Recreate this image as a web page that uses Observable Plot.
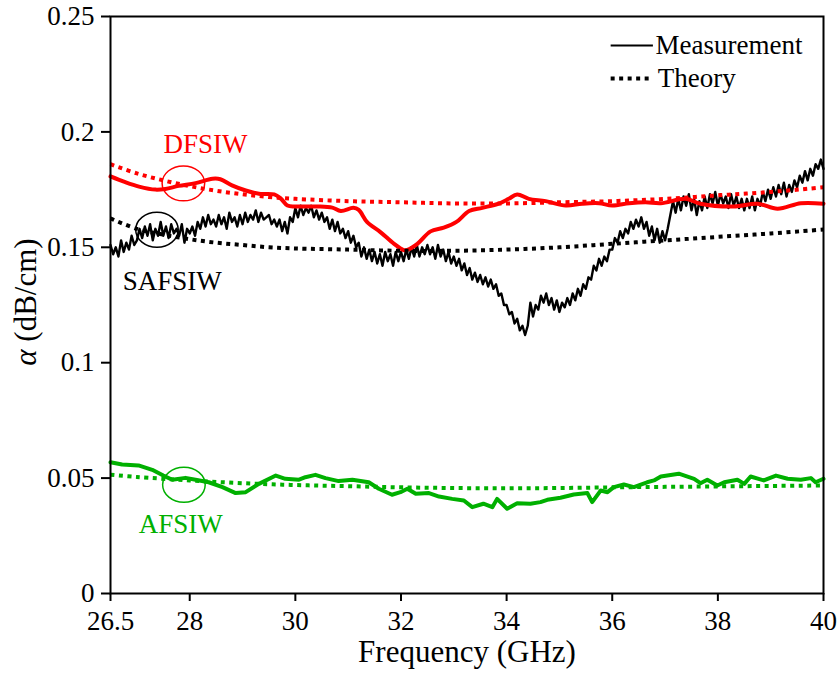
<!DOCTYPE html>
<html><head><meta charset="utf-8">
<script src="https://cdn.jsdelivr.net/npm/d3@7"></script>
<script src="https://cdn.jsdelivr.net/npm/@observablehq/plot@0.6"></script>
<style>body{margin:0;background:#fff}</style>
</head><body><div id="chart"></div>
<script>
// Axis ticks
const xTicks = [26.5, 28, 30, 32, 34, 36, 38, 40];
const yTicks = [0, 0.05, 0.1, 0.15, 0.2, 0.25];

// SAFSIW measurement (black, noisy), sampled every 0.05 GHz from 26.5 GHz
const safsiwStart = 26.5, safsiwStep = 0.05;
const safsiwMeasured = [
  0.151,0.147,0.150,0.146,0.153,0.148,0.152,0.149,0.155,0.151,
  0.153,0.158,0.154,0.159,0.155,0.160,0.153,0.158,0.155,0.161,
  0.155,0.159,0.154,0.160,0.156,0.158,0.155,0.160,0.152,0.158,
  0.156,0.159,0.155,0.161,0.158,0.163,0.159,0.164,0.160,0.162,
  0.159,0.164,0.160,0.163,0.158,0.165,0.161,0.163,0.159,0.164,
  0.160,0.165,0.161,0.164,0.162,0.166,0.161,0.165,0.162,0.163,
  0.164,0.160,0.162,0.159,0.162,0.157,0.161,0.156,0.163,0.161,
  0.167,0.163,0.168,0.164,0.167,0.165,0.168,0.163,0.166,0.162,
  0.165,0.161,0.163,0.158,0.162,0.157,0.161,0.156,0.158,0.154,
  0.157,0.152,0.155,0.150,0.152,0.146,0.150,0.145,0.149,0.144,
  0.148,0.143,0.147,0.142,0.148,0.144,0.147,0.142,0.148,0.144,
  0.148,0.144,0.149,0.145,0.150,0.146,0.151,0.146,0.150,0.147,
  0.151,0.147,0.150,0.145,0.151,0.146,0.149,0.144,0.148,0.143,
  0.146,0.142,0.145,0.140,0.143,0.138,0.141,0.136,0.139,0.135,
  0.138,0.134,0.137,0.133,0.136,0.132,0.134,0.129,0.130,0.125,
  0.125,0.121,0.122,0.117,0.119,0.114,0.116,0.112,0.116,0.126,
  0.120,0.125,0.123,0.129,0.126,0.130,0.125,0.128,0.123,0.127,
  0.122,0.126,0.124,0.128,0.125,0.130,0.127,0.132,0.129,0.134,
  0.132,0.137,0.136,0.142,0.140,0.145,0.142,0.146,0.144,0.149,
  0.149,0.154,0.152,0.157,0.154,0.158,0.156,0.161,0.158,0.162,
  0.159,0.163,0.158,0.161,0.155,0.159,0.153,0.158,0.152,0.157,
  0.153,0.158,0.164,0.170,0.165,0.171,0.166,0.172,0.168,0.173,
  0.166,0.171,0.164,0.170,0.166,0.172,0.167,0.173,0.169,0.174,
  0.168,0.173,0.169,0.172,0.167,0.173,0.168,0.172,0.167,0.171,
  0.166,0.171,0.167,0.172,0.166,0.171,0.168,0.174,0.170,0.175,
  0.171,0.176,0.172,0.177,0.173,0.178,0.172,0.177,0.174,0.179,
  0.176,0.181,0.178,0.183,0.179,0.184,0.181,0.186,0.184,0.188,
  0.184
];

// DFSIW measurement (red): [GHz, dB/cm]
const dfsiwMeasured = [
  [26.5,0.1807],[26.78,0.1782],[27.04,0.1763],[27.35,0.1750],[27.54,0.1753],[27.79,0.1766],
  [28.11,0.1778],[28.43,0.1797],[28.58,0.1795],[28.8,0.1768],[29.06,0.1746],[29.31,0.1732],
  [29.6,0.1729],[29.72,0.1712],[29.85,0.1681],[30.0,0.1677],[30.41,0.1677],[30.7,0.1672],
  [30.86,0.1657],[31.1,0.1671],[31.2,0.1662],[31.36,0.1609],[31.61,0.1566],[31.87,0.1515],
  [32.05,0.1488],[32.12,0.1489],[32.31,0.1515],[32.56,0.1569],[32.81,0.1585],[33.05,0.1610],
  [33.29,0.1657],[33.54,0.1671],[33.85,0.1689],[34.04,0.1710],[34.2,0.1729],[34.42,0.1710],
  [34.74,0.1700],[35.12,0.1681],[35.43,0.1689],[35.75,0.1691],[36.0,0.1681],[36.32,0.1691],
  [36.63,0.1695],[36.92,0.1691],[37.39,0.1710],[37.67,0.1689],[38.3,0.1677],[38.75,0.1689],
  [39.13,0.1667],[39.57,0.1691],[40.0,0.1689]
];

// AFSIW measurement (green): [GHz, dB/cm]
const afsiwMeasured = [
  [26.5,0.0569],[26.72,0.0559],[27.03,0.0555],[27.29,0.0536],[27.5,0.0511],[27.67,0.0493],
  [27.92,0.0501],[28.11,0.0493],[28.36,0.0482],[28.62,0.0461],[28.87,0.0435],[29.06,0.0439],
  [29.31,0.0475],[29.63,0.0511],[29.81,0.0497],[30.07,0.0493],[30.19,0.0504],[30.38,0.0514],
  [30.57,0.0500],[30.82,0.0487],[31.08,0.0493],[31.39,0.0482],[31.58,0.0454],[31.83,0.0428],
  [31.99,0.0439],[32.12,0.0454],[32.28,0.0432],[32.53,0.0435],[32.72,0.0420],[32.97,0.0410],
  [33.19,0.0403],[33.35,0.0374],[33.56,0.0389],[33.73,0.0374],[33.82,0.0410],[34.01,0.0367],
  [34.2,0.0391],[34.45,0.0389],[34.64,0.0396],[34.77,0.0406],[35.02,0.0415],[35.27,0.0429],
  [35.53,0.0435],[35.62,0.0396],[35.78,0.0446],[35.91,0.0439],[36.03,0.0461],[36.22,0.0472],
  [36.41,0.0461],[36.66,0.0482],[36.79,0.0490],[36.92,0.0507],[37.26,0.0519],[37.55,0.0497],
  [37.67,0.0478],[37.8,0.0493],[37.99,0.0468],[38.12,0.0482],[38.37,0.0493],[38.5,0.0475],
  [38.62,0.0507],[38.87,0.0490],[39.1,0.0511],[39.32,0.0497],[39.57,0.0493],[39.76,0.0500],
  [39.85,0.0482],[40.0,0.0497]
];

// Theory curves (dotted)
const dfsiwTheory = [
  [26.5,0.186],[27,0.182],[27.5,0.179],[28,0.1765],[28.5,0.1745],[29,0.173],[29.5,0.1718],
  [30,0.171],[31,0.170],[32,0.1695],[33,0.169],[34,0.169],[35,0.1695],[36,0.170],[37,0.171],
  [38,0.1725],[39,0.174],[40,0.176]
];
const safsiwTheory = [
  [26.5,0.1625],[27,0.158],[27.5,0.1555],[28,0.1535],[28.5,0.152],[29,0.151],[29.5,0.150],
  [30,0.1495],[31,0.149],[32,0.1485],[33,0.1485],[34,0.149],[35,0.150],[36,0.1515],[37,0.153],
  [38,0.1545],[39,0.156],[40,0.1577]
];
const afsiwTheory = [
  [26.5,0.0515],[27,0.0505],[28,0.049],[29,0.0478],[30,0.047],[31,0.0465],[32,0.046],
  [33,0.0457],[34,0.0456],[35,0.0457],[36,0.046],[37,0.0462],[38,0.0464],[39,0.0466],[40,0.0468]
];

// Annotations (data coordinates)
const seriesLabels = [
  {text: "DFSIW", f: 28.3, v: 0.1945, color: "#ff0000"},
  {text: "SAFSIW", f: 27.67, v: 0.1351, color: "#000000"},
  {text: "AFSIW", f: 27.83, v: 0.0299, color: "#00b000"}
];
const markerEllipses = [
  {f: 27.88, v: 0.1777, color: "#ff0000"},
  {f: 27.38, v: 0.1576, color: "#000000"},
  {f: 27.89, v: 0.0471, color: "#00b000"}
];
const legendItems = [
  {label: "Measurement", f1: 35.97, f2: 36.77, ft: 36.82, v: 0.2374, dash: null},
  {label: "Theory", f1: 35.97, f2: 36.69, ft: 36.86, v: 0.2231, dash: "4,4.5"}
];

const safsiwData = safsiwMeasured.map((v, i) => [safsiwStart + i * safsiwStep, v]);

const ellipseSymbol = {
  draw(ctx, size) {
    const r = Math.sqrt(size / Math.PI);
    const rx = r * 1.12, ry = r * 0.92, k = 0.5523;
    ctx.moveTo(rx, 0);
    ctx.bezierCurveTo(rx, ry * k, rx * k, ry, 0, ry);
    ctx.bezierCurveTo(-rx * k, ry, -rx, ry * k, -rx, 0);
    ctx.bezierCurveTo(-rx, -ry * k, -rx * k, -ry, 0, -ry);
    ctx.bezierCurveTo(rx * k, -ry, rx, -ry * k, rx, 0);
    ctx.closePath();
  }
};

const serif = "Liberation Serif";
const dotted = {strokeWidth: 4, strokeDasharray: "4,4.5", strokeLinecap: "butt"};

const chart = Plot.plot({
  width: 838,
  height: 677,
  marginLeft: 110,
  marginRight: 15,
  marginTop: 16,
  marginBottom: 84,
  style: {fontFamily: serif, fontSize: "27px", background: "#fff", color: "#000"},
  x: {domain: [26.5, 40]},
  y: {domain: [0, 0.25]},
  marks: [
    Plot.line(safsiwData, {x: d => d[0], y: d => d[1], stroke: "#000", strokeWidth: 2.4}),
    Plot.line(afsiwMeasured, {x: d => d[0], y: d => d[1], stroke: "#00b000", strokeWidth: 4}),
    Plot.line(dfsiwMeasured, {x: d => d[0], y: d => d[1], stroke: "#ff0000", strokeWidth: 4, curve: "catmull-rom"}),
    Plot.line(dfsiwTheory, {x: d => d[0], y: d => d[1], stroke: "#ff0000", curve: "catmull-rom", ...dotted}),
    Plot.line(safsiwTheory, {x: d => d[0], y: d => d[1], stroke: "#000", curve: "catmull-rom", ...dotted}),
    Plot.line(afsiwTheory, {x: d => d[0], y: d => d[1], stroke: "#00b000", curve: "catmull-rom", ...dotted}),
    Plot.dot(markerEllipses, {x: "f", y: "v", r: 19, symbol: ellipseSymbol, stroke: "color", strokeWidth: 1.5, fill: "none"}),
    Plot.text(seriesLabels, {x: "f", y: "v", text: "text", fill: "color", fontSize: 27, fontFamily: serif, textAnchor: "middle"}),
    // legend
    Plot.link(legendItems.filter(d => !d.dash), {x1: "f1", x2: "f2", y1: "v", y2: "v", stroke: "#000", strokeWidth: 2}),
    Plot.link(legendItems.filter(d => d.dash), {x1: "f1", x2: "f2", y1: "v", y2: "v", stroke: "#000", ...dotted}),
    Plot.text(legendItems, {x: "ft", y: "v", text: "label", textAnchor: "start", fill: "#000", fontSize: 27, fontFamily: serif}),
    Plot.frame({stroke: "#000", strokeWidth: 2}),
    Plot.axisX({ticks: xTicks, tickSize: 8, tickPadding: 9, tickFormat: d => String(d), label: null, strokeWidth: 2, fontSize: 27, fontFamily: serif, fill: "#000"}),
    Plot.axisY({ticks: yTicks, tickSize: 9, tickPadding: 7, tickFormat: d => String(d), label: null, strokeWidth: 2, fontSize: 27, fontFamily: serif, fill: "#000"}),
    Plot.text(["Frequency (GHz)"], {frameAnchor: "bottom", dy: 59, lineAnchor: "middle", textAnchor: "middle", fontSize: 31, fontFamily: serif, fill: "#000"}),
    Plot.text(["α (dB/cm)"], {frameAnchor: "left", dx: -84, dy: -3, rotate: -90, lineAnchor: "middle", textAnchor: "middle", fontSize: 31, fontFamily: serif, fill: "#000"})
  ]
});

d3.select(chart).selectAll("text").filter(function() { return this.textContent === "α (dB/cm)"; })
  .html('<tspan font-style="italic">α</tspan> (dB/cm)');

document.getElementById("chart").appendChild(chart);
</script>
</body></html>
